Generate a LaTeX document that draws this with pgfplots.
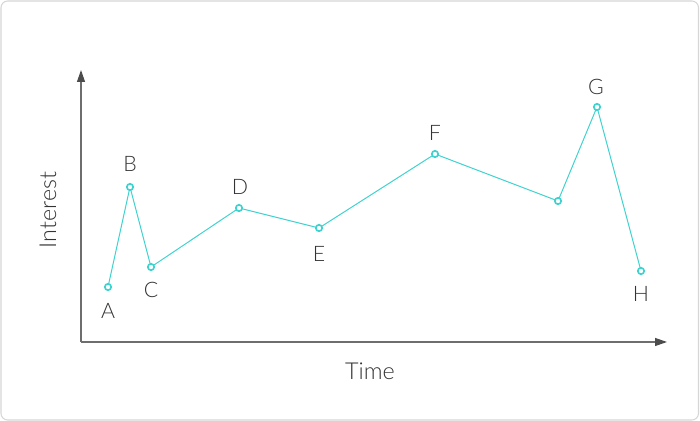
\documentclass[border=0pt]{standalone}
\usepackage{pgfplots}
\pgfplotsset{compat=1.18}
\usepackage{fontspec}
\setmainfont{Lato}[UprightFont={* Light}]
\usetikzlibrary{arrows.meta}
\definecolor{teal1}{HTML}{3FD3D0}
\definecolor{txt}{HTML}{333333}
\definecolor{axc}{HTML}{6E6E6E}
\definecolor{bord}{HTML}{D6D6D6}
\begin{document}
\begin{tikzpicture}
\begin{axis}[
  scale only axis, width=525pt, height=315.75pt,
  xmin=0, xmax=700, ymin=0, ymax=421,
  axis lines=none, clip=false, ticks=none,
]
\path (axis cs:0,0) rectangle (axis cs:700,421);
\draw[bord, line width=0.8pt, rounded corners=5pt] (axis cs:1,1) rectangle (axis cs:698.5,420);
\draw[axc, line width=0.9pt, -{Triangle[length=9pt,width=6pt,color=black!70]}] (axis cs:81,79) -- (axis cs:81,351);
\draw[axc, line width=0.9pt, -{Triangle[length=9pt,width=6pt,color=black!70]}] (axis cs:81,79) -- (axis cs:667,79);
\addplot[teal1, line width=0.75pt, mark=*, mark size=2.4pt, mark options={fill=white, draw=teal1, line width=1.25pt}]
coordinates {(108,134) (130,234) (151,154) (239,213) (319,193) (435,267) (558,220) (597,314) (641,150)};
\begin{scope}[every node/.style={text=txt, font=\fontsize{16}{19}\selectfont}]
\node at (axis cs:108,110) {A};
\node at (axis cs:130,257) {B};
\node at (axis cs:151,131) {C};
\node at (axis cs:240,234) {D};
\node at (axis cs:319,167) {E};
\node at (axis cs:435,288) {F};
\node at (axis cs:596,334) {G};
\node at (axis cs:641,127) {H};
\end{scope}
\node[text=txt, font=\fontsize{17.5}{21}\selectfont] at (axis cs:370,50) {Time};
\node[text=txt, font=\fontsize{17.5}{21}\selectfont, rotate=90] at (axis cs:48,211) {Interest};
\end{axis}
\end{tikzpicture}
\end{document}
